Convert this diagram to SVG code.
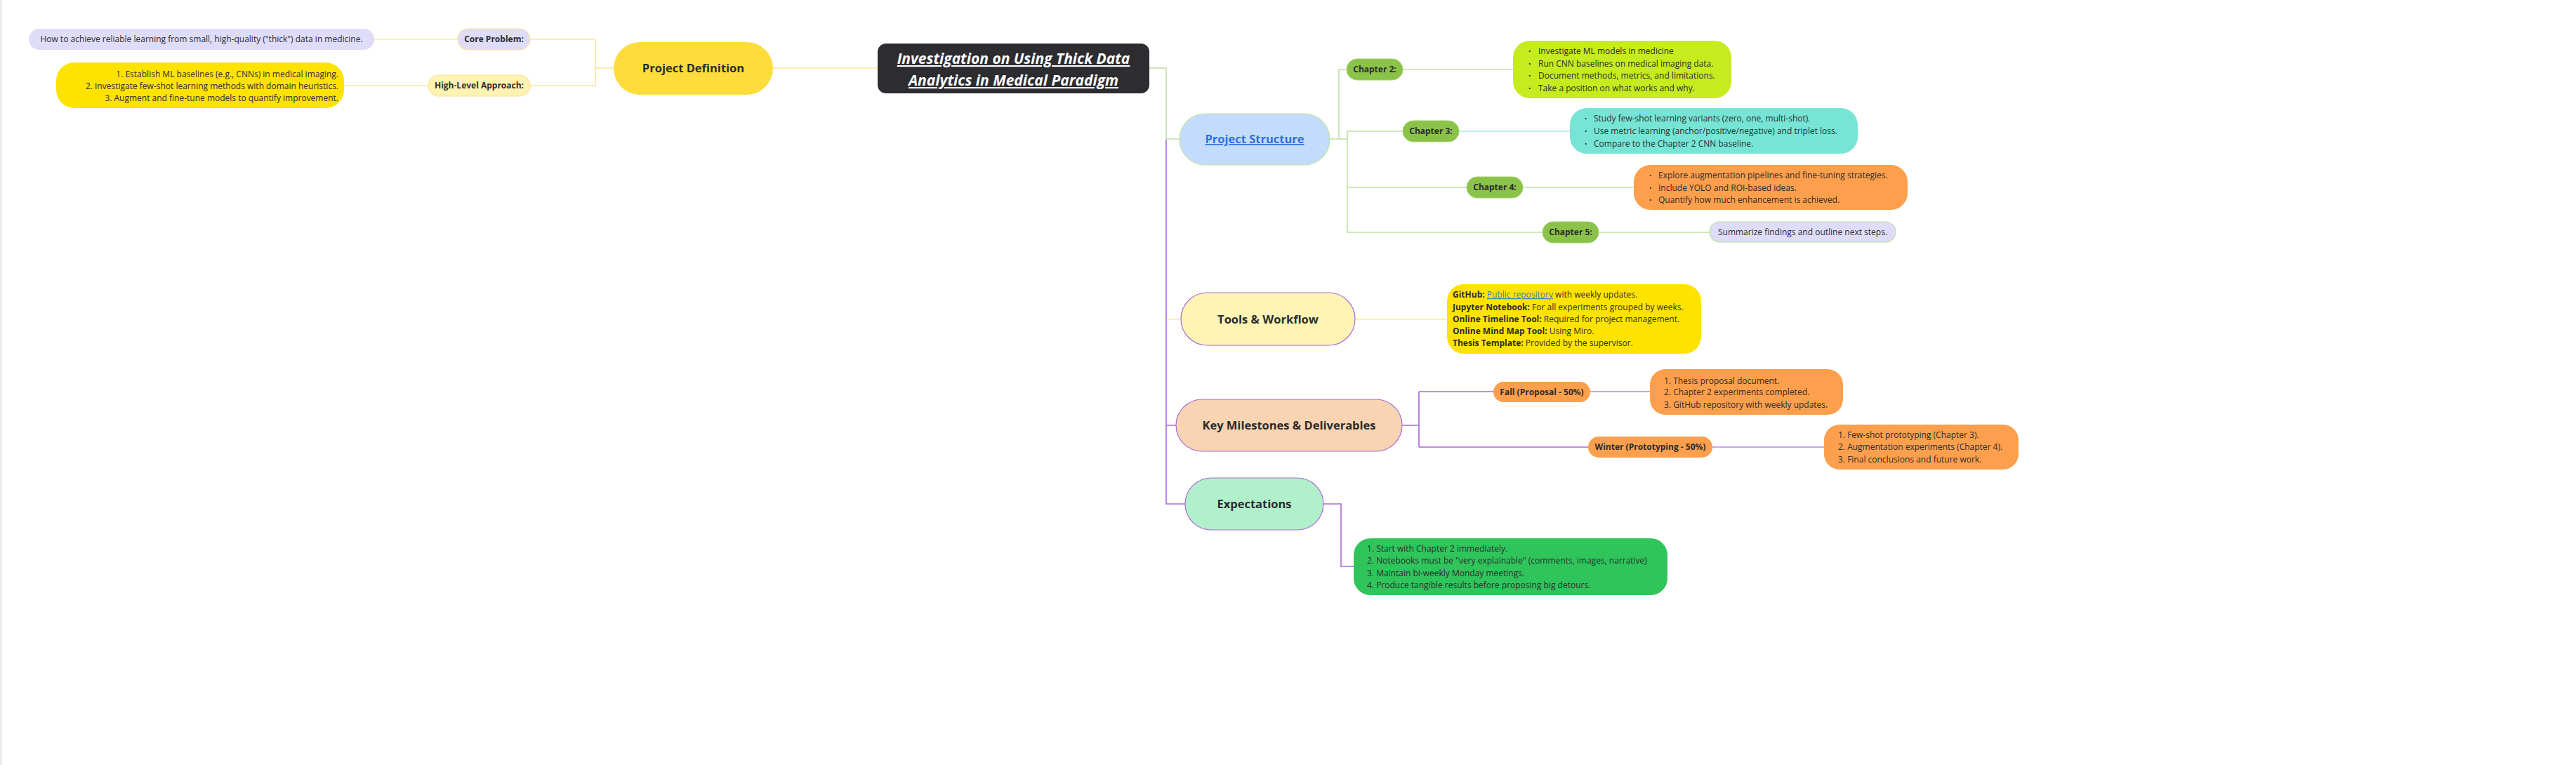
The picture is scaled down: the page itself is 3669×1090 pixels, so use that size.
<svg xmlns="http://www.w3.org/2000/svg" width="3669" height="1090" viewBox="0 0 3669 1090">
<style>
.t{font-family:"Open Sans","Noto Sans","Liberation Sans",sans-serif;font-size:12px;fill:#2d2d2d}
.b{font-weight:700}
.m{text-anchor:middle}
.e{text-anchor:end}
.big{font-size:16.5px;font-weight:700;fill:#2b2b2b}
.bul{font-size:9px}
.cy{fill:none;stroke:#fbe89c;stroke-width:1.6}
.cg{fill:none;stroke:#bde2a4;stroke-width:1.6}
.cc{fill:none;stroke:#a9ece3;stroke-width:1.6}
.cp{fill:none;stroke:#a56cd6;stroke-width:1.6}
.cl{fill:none;stroke:#c8a6ee;stroke-width:1.8}
.lav{fill:#dedcf9}
.chap{fill:#8bc34a;stroke:#9fd062;stroke-width:1}
</style>
<rect x="0" y="0" width="3669" height="1090" fill="#ffffff"/>
<line x1="1.5" y1="0" x2="1.5" y2="1090" stroke="#e2e2e2" stroke-width="2"/>

<g id="connectors">
  <path class="cy" d="M533,56 H652"/>
  <path class="cy" d="M490,122 H610"/>
  <path class="cy" d="M755,56 H848 V122 H755 M848,97 H874"/>
  <path class="cy" d="M1101,97 H1250"/>
  <path class="cy" d="M1661,455 H1682 M1930,455 H2061"/>
  <path class="cp" d="M1661,198 V718 H1688 M1661,606 H1675"/>
  <path class="cg" d="M1637,97 H1661 V198 H1680"/>
  <path class="cg" d="M1894,198 H1907 V99 H1918 M1894,198 H1919 V187 H1998 M1919,198 V331 H2197 M1919,267 H2089"/>
  <path class="cg" d="M1998,99 H2155"/>
  <path class="cc" d="M2078,187 H2236"/>
  <path class="cg" d="M2169,267 H2327"/>
  <path class="cg" d="M2277,331 H2435"/>
  <path class="cp" d="M1997,606 H2021 M2021,558 V637 M2021,558 H2127 M2021,637 H2262"/>
  <path class="cl" d="M2265,558 H2350 M2439,637 H2598"/>
  <path class="cp" d="M1885,718 H1910 V807 H1928"/>
</g>

<g id="core-problem-text">
  <rect class="lav" x="41" y="41" width="492" height="30" rx="15"/>
  <text class="t m" x="287" y="60">How to achieve reliable learning from small, high-quality ("thick") data in medicine.</text>
</g>
<g id="core-problem">
  <rect class="lav" x="652" y="41" width="103" height="30" rx="15" stroke="#f7e597" stroke-width="1.2"/>
  <text class="t b m" x="703.5" y="60">Core Problem:</text>
</g>
<g id="approach-text">
  <rect x="80" y="89" width="410" height="65" rx="26" fill="#ffe300"/>
  <text class="t e" x="482" y="110">1. Establish ML baselines (e.g., CNNs) in medical imaging.</text>
  <text class="t e" x="482" y="127">2. Investigate few-shot learning methods with domain heuristics.</text>
  <text class="t e" x="482" y="144">3. Augment and fine-tune models to quantify improvement.</text>
</g>
<g id="approach">
  <rect x="610" y="107" width="145" height="30" rx="15" fill="#fff3b3" stroke="#f7e597" stroke-width="1.2"/>
  <text class="t b m" x="682.5" y="126">High-Level Approach:</text>
</g>
<g id="project-definition">
  <rect x="874" y="60" width="227" height="75" rx="37.5" fill="#fedc3c"/>
  <text class="t big m" x="987.5" y="103">Project Definition</text>
</g>
<g id="root">
  <rect x="1250" y="62" width="387" height="71" rx="12" fill="#2c2c31"/>
  <text class="t m" x="1443.5" y="91" style="font-size:21px;font-weight:700;font-style:italic;fill:#ffffff;text-decoration:underline">Investigation on Using Thick Data</text>
  <text class="t m" x="1443.5" y="122" style="font-size:21px;font-weight:700;font-style:italic;fill:#ffffff;text-decoration:underline">Analytics in Medical Paradigm </text>
</g>

<g id="project-structure">
  <rect x="1680" y="162" width="214" height="73" rx="36.5" fill="#c4dcfb" stroke="#bde2a4" stroke-width="1.2"/>
  <text class="t big m" x="1787" y="204" style="fill:#2f6fe0;text-decoration:underline">Project Structure</text>
</g>
<g id="chapter-2">
  <rect class="chap" x="1918" y="84" width="80" height="30" rx="15"/>
  <text class="t b m" x="1958" y="103">Chapter 2:</text>
</g>
<g id="chapter-3">
  <rect class="chap" x="1998" y="172" width="80" height="30" rx="15"/>
  <text class="t b m" x="2038" y="191">Chapter 3:</text>
</g>
<g id="chapter-4">
  <rect class="chap" x="2089" y="252" width="80" height="30" rx="15"/>
  <text class="t b m" x="2129" y="271">Chapter 4:</text>
</g>
<g id="chapter-5">
  <rect class="chap" x="2197" y="316" width="80" height="30" rx="15"/>
  <text class="t b m" x="2237" y="335">Chapter 5:</text>
</g>
<g id="chapter-2-text">
  <rect x="2155" y="58" width="311" height="82" rx="24" fill="#c6eb1f"/>
  <text class="t bul" x="2177" y="76">•</text><text class="t" x="2191" y="77">Investigate ML models in medicine</text>
  <text class="t bul" x="2177" y="94">•</text><text class="t" x="2191" y="95">Run CNN baselines on medical imaging data.</text>
  <text class="t bul" x="2177" y="111">•</text><text class="t" x="2191" y="112">Document methods, metrics, and limitations.</text>
  <text class="t bul" x="2177" y="129">•</text><text class="t" x="2191" y="130">Take a position on what works and why.</text>
</g>
<g id="chapter-3-text">
  <rect x="2236" y="154" width="410" height="65" rx="24" fill="#76e5d6"/>
  <text class="t bul" x="2257" y="172">•</text><text class="t" x="2270" y="173">Study few-shot learning variants (zero, one, multi-shot).</text>
  <text class="t bul" x="2257" y="190">•</text><text class="t" x="2270" y="191">Use metric learning (anchor/positive/negative) and triplet loss.</text>
  <text class="t bul" x="2257" y="208">•</text><text class="t" x="2270" y="209">Compare to the Chapter 2 CNN baseline.</text>
</g>
<g id="chapter-4-text">
  <rect x="2327" y="235" width="390" height="64" rx="24" fill="#fd9f4c"/>
  <text class="t bul" x="2349" y="253">•</text><text class="t" x="2362" y="254">Explore augmentation pipelines and fine-tuning strategies.</text>
  <text class="t bul" x="2349" y="271">•</text><text class="t" x="2362" y="272">Include YOLO and ROI-based ideas.</text>
  <text class="t bul" x="2349" y="288">•</text><text class="t" x="2362" y="289">Quantify how much enhancement is achieved.</text>
</g>
<g id="chapter-5-text">
  <rect class="lav" x="2435" y="316" width="265" height="29" rx="14.5" stroke="#bde2a4" stroke-width="1.2"/>
  <text class="t m" x="2567.5" y="335">Summarize findings and outline next steps.</text>
</g>

<g id="tools-workflow">
  <rect x="1682" y="417" width="248" height="75" rx="37.5" fill="#fff4b4" stroke="#a56cd6" stroke-width="1.2"/>
  <text class="t big m" x="1806" y="461">Tools &amp; Workflow</text>
</g>
<g id="tools-text">
  <rect x="2061" y="405" width="362" height="99" rx="24" fill="#ffe300"/>
  <text class="t" x="2069" y="424"><tspan class="b">GitHub:</tspan> <tspan style="fill:#3b7fc4;text-decoration:underline">Public repository</tspan> with weekly updates.</text>
  <text class="t" x="2069" y="442"><tspan class="b">Jupyter Notebook:</tspan> For all experiments grouped by weeks.</text>
  <text class="t" x="2069" y="459"><tspan class="b">Online Timeline Tool:</tspan> Required for project management.</text>
  <text class="t" x="2069" y="476"><tspan class="b">Online Mind Map Tool:</tspan> Using Miro.</text>
  <text class="t" x="2069" y="493"><tspan class="b">Thesis Template:</tspan> Provided by the supervisor.</text>
</g>

<g id="milestones">
  <rect x="1675" y="569" width="322" height="74" rx="37" fill="#f9d4b2" stroke="#a56cd6" stroke-width="1.2"/>
  <text class="t big m" x="1836" y="612">Key Milestones &amp; Deliverables</text>
</g>
<g id="fall">
  <rect x="2127" y="544" width="138" height="29" rx="14.5" fill="#fd9f4c"/>
  <text class="t b m" x="2196" y="562.5">Fall (Proposal - 50%)</text>
</g>
<g id="winter">
  <rect x="2262" y="622" width="177" height="30" rx="15" fill="#fd9f4c"/>
  <text class="t b m" x="2350.5" y="641">Winter (Prototyping - 50%)</text>
</g>
<g id="fall-text">
  <rect x="2350" y="526" width="275" height="65" rx="22" fill="#fd9f4c"/>
  <text class="t" x="2370" y="547">1. Thesis proposal document.</text>
  <text class="t" x="2370" y="563">2. Chapter 2 experiments completed.</text>
  <text class="t" x="2370" y="581">3. GitHub repository with weekly updates.</text>
</g>
<g id="winter-text">
  <rect x="2598" y="605" width="277" height="64" rx="22" fill="#fd9f4c"/>
  <text class="t" x="2618" y="624">1. Few-shot prototyping (Chapter 3).</text>
  <text class="t" x="2618" y="641">2. Augmentation experiments (Chapter 4).</text>
  <text class="t" x="2618" y="659">3. Final conclusions and future work.</text>
</g>

<g id="expectations">
  <rect x="1688" y="681" width="197" height="74" rx="37" fill="#b0f0ca" stroke="#a56cd6" stroke-width="1.2"/>
  <text class="t big m" x="1786.5" y="724">Expectations</text>
</g>
<g id="expectations-text">
  <rect x="1928" y="767" width="447" height="81" rx="24" fill="#2fc55b"/>
  <text class="t" x="1947" y="786">1. Start with Chapter 2 immediately.</text>
  <text class="t" x="1947" y="803">2. Notebooks must be "very explainable" (comments, images, narrative)</text>
  <text class="t" x="1947" y="821">3. Maintain bi-weekly Monday meetings.</text>
  <text class="t" x="1947" y="838">4. Produce tangible results before proposing big detours.</text>
</g>
</svg>
